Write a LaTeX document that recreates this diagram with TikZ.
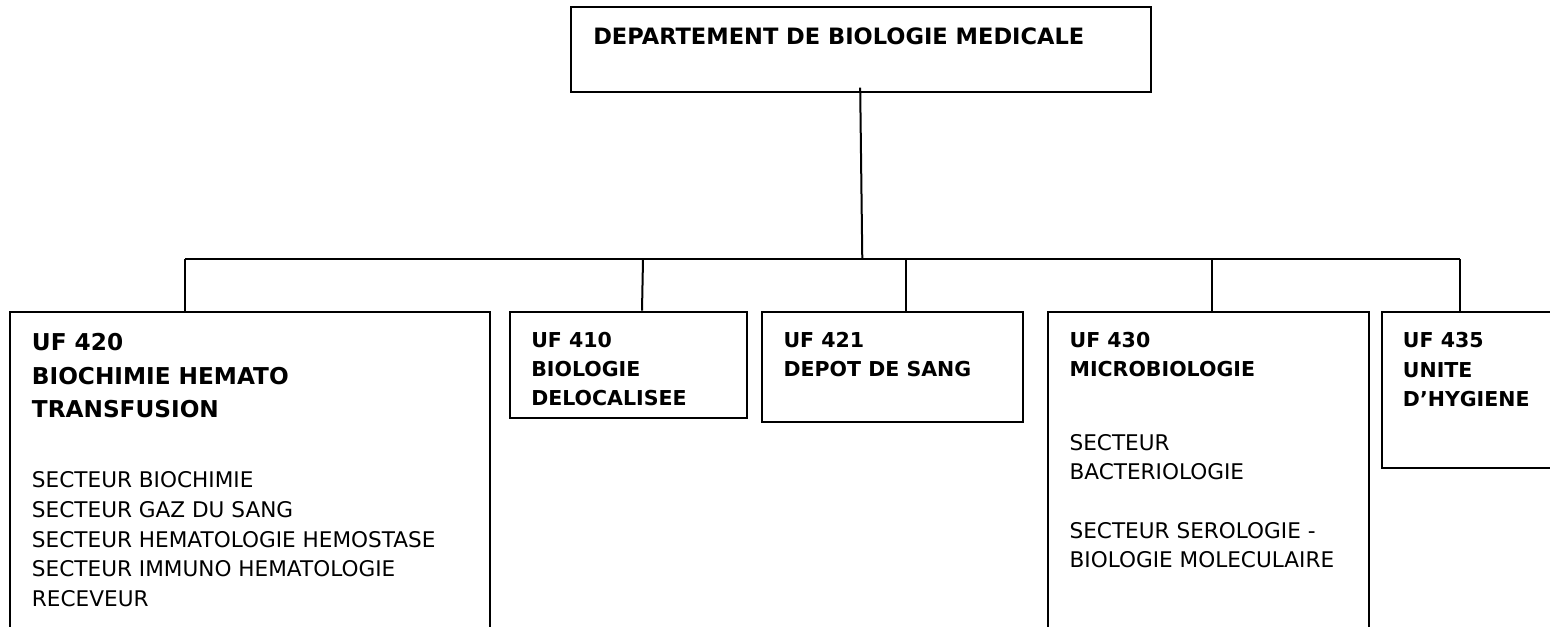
\documentclass[tikz,border=0pt]{standalone}
\usepackage{fontspec}
\setmainfont{DejaVu Sans}
\usetikzlibrary{fit}
\begin{document}
\begin{tikzpicture}[x=0.75pt,y=-0.75pt,
  box/.style={draw=black,line width=1.5pt,inner sep=0pt,rectangle},
  conn/.style={draw=black,line width=1.5pt},
  hdr/.style={anchor=north west,inner sep=0pt,align=left,font=\bfseries\fontsize{15.4}{22}\selectfont},
  bodytxt/.style={anchor=north west,inner sep=0pt,align=left,font=\fontsize{16.2}{22.2}\selectfont},
  ttl/.style={anchor=base west,inner sep=0pt,font=\bfseries\fontsize{16.9}{20}\selectfont}]
\useasboundingbox (0,0) rectangle (1550,627);
\clip (0,0) rectangle (1550,627);
% boxes
\node[box,fit={(571,7.3) (1150.7,91.7)}] (top) {};
\node[box,fit={(10,311.7) (490,660)}] (u420) {};
\node[box,fit={(510,311.7) (746.7,417.7)}] (u410) {};
\node[box,fit={(762.3,311.7) (1022.7,421.7)}] (u421) {};
\node[box,fit={(1048.3,311.7) (1369,660)}] (u430) {};
\node[box,fit={(1381.7,311.7) (1600,467.5)}] (u435) {};
% texts
\node[ttl] (ttltext) at (593,44.5) {DEPARTEMENT DE BIOLOGIE MEDICALE};
\node[hdr,font=\bfseries\fontsize{17.4}{25}\selectfont] (h420) at (31.7,333.3) {UF 420\\BIOCHIMIE HEMATO\\TRANSFUSION};
\node[bodytxt] (b420) at (31.7,471.5) {SECTEUR BIOCHIMIE\\SECTEUR GAZ DU SANG\\SECTEUR HEMATOLOGIE HEMOSTASE\\SECTEUR IMMUNO HEMATOLOGIE\\RECEVEUR};
\node[hdr] (h410) at (531,331.8) {UF 410\\BIOLOGIE\\DELOCALISEE};
\node[hdr] (h421) at (783.3,331.8) {UF 421\\DEPOT DE SANG};
\node[hdr] (h430) at (1069.3,331.8) {UF 430\\MICROBIOLOGIE};
\node[bodytxt,font=\fontsize{16.2}{21.9}\selectfont] (b430) at (1069.3,434.3) {SECTEUR\\BACTERIOLOGIE\\[21.9pt]SECTEUR SEROLOGIE -\\BIOLOGIE MOLECULAIRE};
\node[hdr] (h435) at (1402.7,332.4) {UF 435\\UNITE\\D'HYGIENE};
% connectors
\coordinate (jm) at (862.3,259.5);
\coordinate (j420) at (185,259.5);
\coordinate (j410) at (643,259.5);
\coordinate (j421) at (906,259.5);
\coordinate (j430) at (1212.3,259.5);
\coordinate (j435) at (1460,259.5);
\draw[conn] ([xshift=-0.5pt,yshift=3.75pt]top.south) -- (jm);
\draw[conn] (j420) -- (j435);
\draw[conn] (j420) -- (j420 |- u420.north);
\draw[conn] (j410) -- ([xshift=-0.75pt]j410 |- u410.north);
\draw[conn] (j421) -- (j421 |- u421.north);
\draw[conn] (j430) -- (j430 |- u430.north);
\draw[conn] (j435) -- (j435 |- u435.north);
\end{tikzpicture}
\end{document}
